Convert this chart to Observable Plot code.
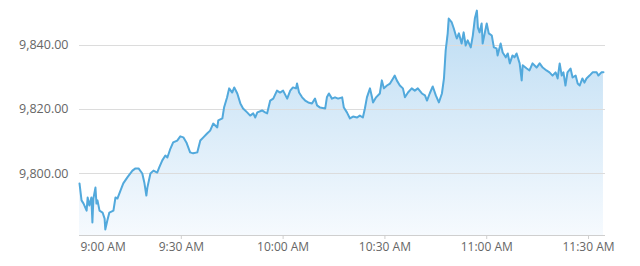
<!DOCTYPE html>
<html>
<head>
<meta charset="utf-8">
<script src="https://cdn.jsdelivr.net/npm/d3@7"></script>
<script src="https://cdn.jsdelivr.net/npm/@observablehq/plot@0.6"></script>
<style>
  html, body { margin: 0; padding: 0; background: #fff; }
  #chart svg { display: block; }
</style>
</head>
<body>
<div id="chart"></div>
<script>
// minutes after 9:00 AM
const minutes = [0,0.6,1.2,2.1,2.4,2.9,3.5,3.8,4.1,4.7,5.0,5.3,5.9,6.8,7.4,7.6,8.2,8.8,10.0,10.6,11.2,12.1,12.9,14.1,15.6,16.5,17.4,18.5,19.1,19.7,20.0,20.9,21.8,22.9,23.5,24.4,25.3,25.9,26.8,27.6,28.8,29.7,30.6,31.5,32.6,33.5,34.7,35.6,36.5,37.6,38.5,39.4,40.6,40.9,42.1,42.6,43.5,44.1,45.0,45.6,46.5,47.4,48.2,49.4,50.3,51.2,51.8,52.4,53.8,54.7,55.3,56.2,57.1,58.2,59.1,60.0,61.2,62.1,62.9,63.8,64.1,64.7,65.6,66.5,67.4,68.5,69.4,70.0,70.9,72.4,72.9,73.5,74.4,75.3,76.2,77.4,77.9,78.8,79.7,80.6,81.8,82.6,83.5,84.1,84.7,85.6,86.2,86.5,87.4,88.5,89.1,89.7,90.6,91.5,92.4,92.9,93.5,94.4,95.3,95.9,96.8,97.9,98.8,99.7,100.9,101.8,102.4,103.2,104.1,105.0,105.9,106.8,107.4,107.9,108.5,108.8,109.7,110.3,110.9,111.2,111.8,112.6,113.2,113.8,114.4,115.3,115.9,116.5,117.1,117.4,117.9,118.5,118.8,119.4,120.0,120.6,121.5,122.1,122.9,123.2,124.1,124.7,125.6,126.2,126.8,127.6,128.2,128.8,129.7,130.3,130.6,131.8,132.6,133.5,134.7,135.6,136.5,137.6,138.5,139.4,140.3,140.9,141.5,142.1,142.6,143.2,143.8,144.7,145.3,146.2,146.8,147.4,148.2,148.8,149.4,150.3,151.2,152.4,152.9,153.8,154.4];
const prices = [9796.9,9791.6,9790.6,9788.4,9792.5,9790.0,9792.5,9784.7,9792.2,9795.6,9790.6,9791.6,9788.4,9787.8,9785.9,9782.5,9785.3,9787.8,9788.4,9792.5,9792.2,9794.7,9796.9,9798.8,9800.9,9801.6,9801.6,9800.0,9797.2,9793.1,9795.6,9800.0,9800.9,9800.3,9801.9,9804.1,9805.6,9805.0,9807.8,9809.7,9810.3,9811.6,9811.3,9809.7,9806.6,9806.3,9806.6,9810.3,9811.3,9812.5,9813.4,9815.6,9814.4,9816.6,9817.2,9820.6,9823.8,9826.6,9825.3,9826.9,9825.0,9821.9,9820.3,9819.1,9818.1,9818.8,9817.5,9819.1,9819.7,9819.1,9818.8,9822.8,9823.4,9825.9,9825.3,9825.9,9823.4,9825.9,9826.9,9826.6,9828.1,9825.3,9823.8,9822.8,9822.2,9821.9,9823.4,9821.3,9820.6,9820.3,9823.8,9825.0,9823.4,9823.8,9823.4,9823.8,9820.6,9819.1,9817.2,9817.8,9817.5,9818.1,9817.5,9820.3,9823.8,9826.6,9823.8,9822.2,9823.8,9825.0,9829.1,9826.6,9827.5,9828.1,9829.7,9830.6,9829.1,9827.5,9826.6,9823.8,9825.3,9826.6,9825.9,9826.6,9825.0,9824.4,9822.8,9825.0,9827.2,9824.4,9822.2,9825.0,9829.7,9838.4,9843.8,9848.4,9847.2,9845.3,9843.1,9842.2,9843.8,9840.6,9844.1,9840.0,9841.6,9839.4,9843.1,9848.4,9850.9,9845.6,9844.1,9846.9,9840.6,9843.8,9846.9,9843.8,9843.1,9839.4,9839.1,9836.9,9840.6,9837.8,9836.3,9837.5,9834.4,9836.9,9836.3,9837.5,9834.4,9829.1,9833.8,9832.8,9832.2,9834.4,9833.1,9834.4,9833.1,9832.2,9831.6,9830.6,9831.6,9829.7,9834.4,9830.6,9831.6,9827.5,9831.6,9832.8,9830.0,9830.6,9828.1,9827.5,9829.7,9828.4,9829.7,9830.6,9831.6,9831.6,9830.6,9831.6,9831.6];
const yTicks = [9800, 9820, 9840];
const xTickTimes = ["9:00", "9:30", "10:00", "10:30", "11:00", "11:30"];
const yDomain = [9780.63, 9851.87];
const xDomainTimes = ["9:00", "11:35"];

const toDate = (hm) => { const [h, m] = hm.split(":").map(Number); return new Date(Date.UTC(2024, 0, 2, h, m)); };
const start = toDate("9:00");
const data = minutes.map((m, i) => ({ t: new Date(+start + m * 60000), v: prices[i] }));
const xTicks = xTickTimes.map(toDate);
const fmt = d3.utcFormat("%-I:%M %p");
const numFmt = d3.format(",.2f");

const lineColor = "#52a9dc";
const textColor = "#666";
const gridColor = "#dcdcdc";

const plot = Plot.plot({
  width: 640,
  height: 266,
  marginLeft: 79,
  marginRight: 35,
  marginTop: 7,
  marginBottom: 31,
  style: { fontFamily: "'Open Sans', sans-serif", fontSize: "12px", color: textColor, background: "#fff" },
  x: { type: "utc", domain: xDomainTimes.map(toDate), label: null },
  y: { domain: yDomain, label: null },
  marks: [
    Plot.areaY(data, { x: "t", y1: yDomain[0], y2: "v", fill: "url(#areaGrad)" }),
    Plot.ruleY(yTicks, { stroke: gridColor, strokeWidth: 1 }),
    Plot.ruleY([yDomain[0]], { stroke: "#cfcfcf", strokeWidth: 1 }),
    Plot.lineY(data, { x: "t", y: "v", stroke: lineColor, strokeWidth: 2, strokeLinejoin: "round" }),
    Plot.axisY({ ticks: yTicks, tickSize: 0, tickPadding: 11, tickFormat: numFmt, fill: textColor, fontSize: 12.5, label: null }),
    Plot.axisX({ ticks: xTicks.slice(1), tickSize: 4, tickPadding: 3, stroke: "#cfcfcf", tickFormat: fmt, fill: textColor, fontSize: 12, label: null }),
    Plot.axisX({ ticks: xTicks.slice(0, 1), tickSize: 0, tickPadding: 7, textAnchor: "start", dx: 1, tickFormat: fmt, fill: textColor, fontSize: 12, label: null })
  ]
});

const ns = "http://www.w3.org/2000/svg";
const defs = document.createElementNS(ns, "defs");
defs.innerHTML = `<linearGradient id="areaGrad" x1="0" y1="0" x2="0" y2="1">
  <stop offset="0" stop-color="#bcdcf3"/>
  <stop offset="1" stop-color="#f6fafe"/>
</linearGradient>`;
plot.insertBefore(defs, plot.firstChild);
document.getElementById("chart").appendChild(plot);
</script>
</body>
</html>
